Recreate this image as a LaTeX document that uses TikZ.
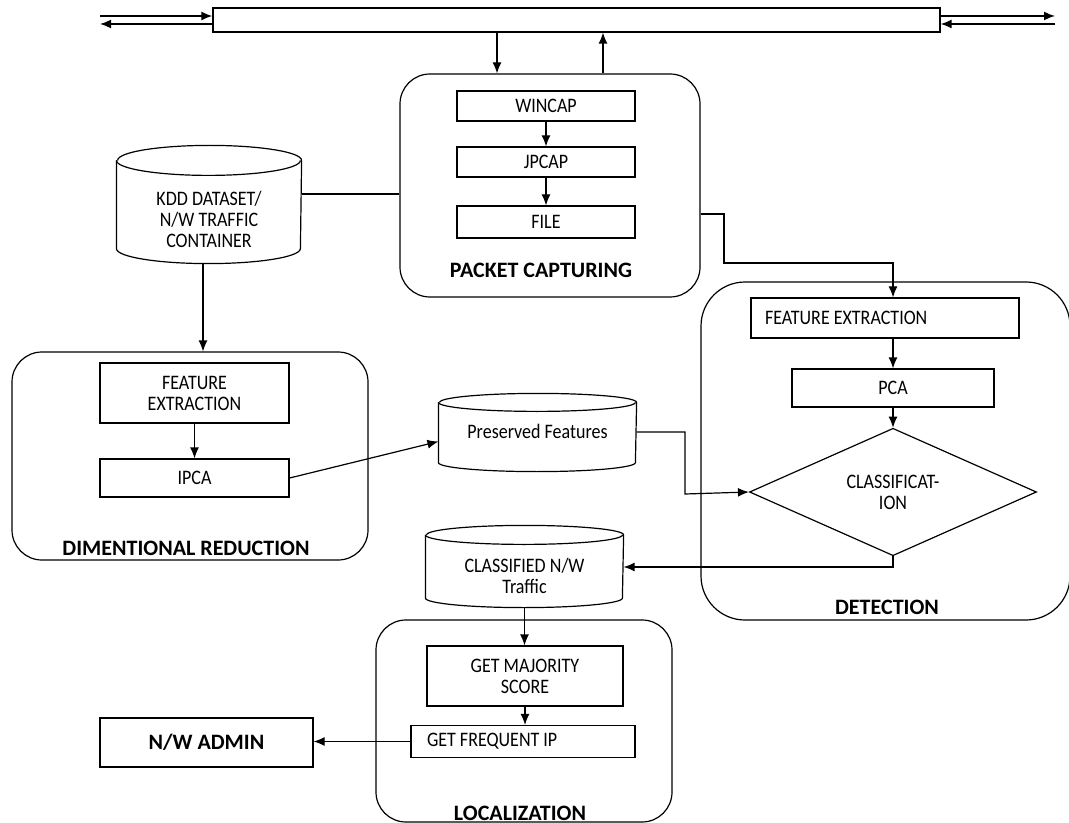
\documentclass[tikz,border=0pt]{standalone}
\usepackage{fontspec}
\setmainfont[FakeStretch=0.874]{Carlito}
\newfontfamily\titlefont{Carlito}
\usetikzlibrary{shapes.geometric,arrows.meta}

% drum (database) outline around a node: node, x radius, y radius
\newcommand{\drumshape}[3]{%
  \draw ([yshift=#3]#1.north west) -- ([yshift=#3]#1.south west)
    arc[start angle=180, end angle=360, x radius=#2, y radius=#3]
    -- ([yshift=#3]#1.north east)
    arc[start angle=0, end angle=180, x radius=#2, y radius=#3];
  \draw ([yshift=#3]#1.north west)
    arc[start angle=180, end angle=360, x radius=#2, y radius=#3];
}

\begin{document}
\begin{tikzpicture}[x=0.5pt,y=-0.5pt,>={Latex[length=5.5pt,width=4.5pt]},line width=0.6pt,
    font=\fontsize{10.3}{10.5}\selectfont,
    box/.style={draw,minimum height=15pt,align=center,inner sep=2pt},
    group/.style={draw,rounded corners=15pt},
    store/.style={align=center,inner sep=1pt},
    title/.style={font=\titlefont\fontsize{11}{12}\selectfont\bfseries}]

    \useasboundingbox (0,0) rectangle (1069,823);

    % top bus
    \node[draw,minimum width=363.5pt,minimum height=12pt] (bus) at (576.5,20) {};
    \coordinate (lin) at (100,16);
    \coordinate (lout) at (100,24);
    \coordinate (rout) at (1055,16);
    \coordinate (rin) at (1055,24);
    \coordinate (busdn) at (497,0);
    \coordinate (busup) at (603,0);

    % packet capturing
    \node[group,minimum width=150pt,minimum height=111.5pt] (pcap) at (550,185.5) {};
    \node[box,minimum width=89pt] (wincap) at (546,106) {WINCAP};
    \node[box,minimum width=89pt] (jpcap) at (546,162) {JPCAP};
    \node[box,minimum width=89pt,minimum height=16pt] (file) at (546,222) {FILE};
    \node[title] (pcaplbl) at (541,270) {PACKET CAPTURING};

    % data set
    \node[store,minimum width=92pt,minimum height=43.5pt] (kdd) at (209,219.5)
        {KDD DATASET/\\N/W TRAFFIC\\CONTAINER};
    \drumshape{kdd}{46pt}{7.5pt}
    \coordinate (kddcol) at (203,0);

    % dimentional reduction
    \node[group,minimum width=178pt,minimum height=104pt] (dimred) at (190,456) {};
    \node[box,minimum width=94.5pt,minimum height=30pt] (dfeat) at (194.5,393) {FEATURE\\EXTRACTION};
    \node[box,minimum width=94.5pt,minimum height=19pt] (ipca) at (194.5,478) {IPCA};
    \node[title] (dimlbl) at (186,548) {DIMENTIONAL REDUCTION};

    % preserved features
    \node[store,minimum width=98.5pt,minimum height=29.5pt,text depth=10pt] (pf) at (537.5,441.5)
        {Preserved Features};
    \drumshape{pf}{49.25pt}{4.5pt}

    % detection
    \node[group,rounded corners=22pt,minimum width=184.5pt,minimum height=169pt] (detect) at (885.5,451) {};
    \node[box,minimum width=134pt,minimum height=20pt,text width=120pt,align=flush left] (efeat) at (885,318)
        {FEATURE EXTRACTION};
    \node[box,minimum width=101pt,minimum height=19pt] (epca) at (893,388) {PCA};
    \node[diamond,draw,inner sep=0pt,minimum width=143.5pt,minimum height=63.5pt,align=center] (cls)
        at (893,492) {CLASSIFICAT-\\ION};
    \node[title] (detlbl) at (887,607) {DETECTION};
    \coordinate (pfbend) at (685,494);
    \coordinate (capbend) at (724,263);

    % classified traffic
    \node[store,minimum width=98.5pt,minimum height=31pt] (cnw) at (524.5,576)
        {CLASSIFIED N/W\\Traffic};
    \drumshape{cnw}{49.25pt}{4.75pt}

    % localization
    \node[group,minimum width=148pt,minimum height=101pt] (local) at (524,721) {};
    \node[box,minimum width=98pt,minimum height=30pt] (gms) at (525,676) {GET MAJORITY\\SCORE};
    \node[box,minimum width=112pt,minimum height=16pt,text width=96pt,align=flush left] (gfip) at (523,741.5)
        {GET FREQUENT IP};
    \node[title] (loclbl) at (520,813) {LOCALIZATION};
    \node[box,minimum width=106.5pt,minimum height=24.5pt,title] (admin) at (206.5,742.5) {N/W ADMIN};

    % connectors
    \draw[->,thick] (lin) -- (lin -| bus.west);
    \draw[->,thick] (lout -| bus.west) -- (lout);
    \draw[->,thick] (rout -| bus.east) -- (rout);
    \draw[->,thick] (rin) -- (rin -| bus.east);
    \draw[->] (bus.south -| busdn) -- (pcap.north -| busdn);
    \draw[->] (pcap.north -| busup) -- (bus.south -| busup);
    \draw[->] (wincap) -- (jpcap);
    \draw[->] (jpcap) -- (file);
    \draw ([yshift=12.75pt]kdd.east) coordinate (kddout) -- (kddout -| pcap.west);
    \draw[->] (kdd.south -| kddcol) -- (dimred.north -| kddcol);
    \draw[->] (dfeat) -- (ipca);
    \draw[->] (ipca.east) -- (pf.west);
    \draw[->] ([yshift=4.75pt]pf.east) -| (pfbend) -- (cls.west);
    \draw[->] ([yshift=-14.25pt]pcap.east) -| (capbend) -| (efeat.north -| cls);
    \draw[->] (efeat.south -| epca) -- (epca.north);
    \draw[->] (epca) -- (cls);
    \draw[->] (cls.south) |- ([yshift=4.5pt]cnw.east);
    \draw[->] (cnw.south) -- (gms.north -| cnw);
    \draw[->] (gms.south) -- (gms.south |- gfip.north);
    \draw[->] (gfip.west) -- (gfip.west -| admin.east);
\end{tikzpicture}
\end{document}
